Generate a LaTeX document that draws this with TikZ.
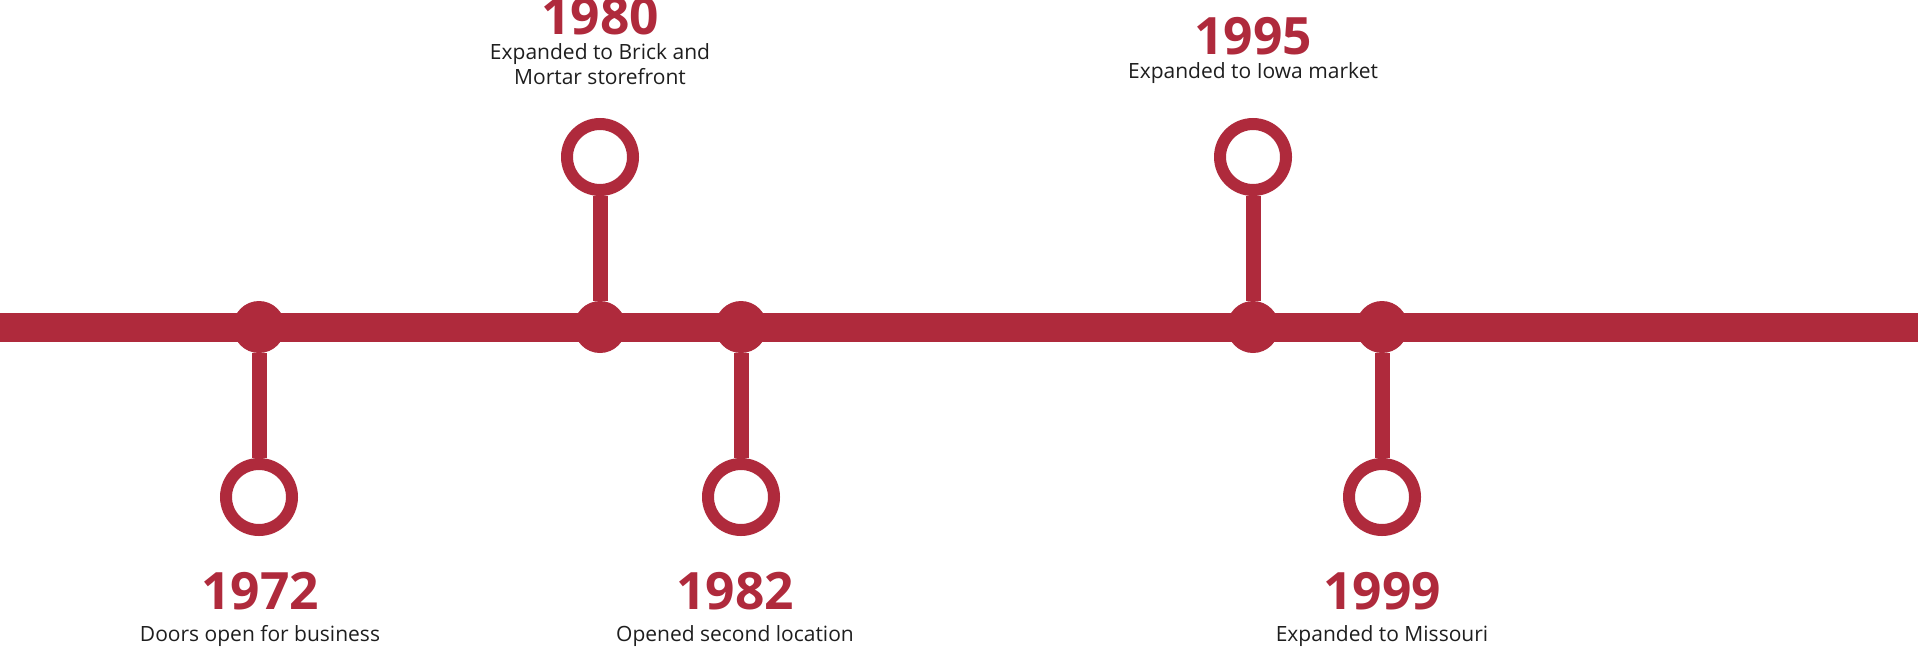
\documentclass[tikz,border=0pt]{standalone}
\usepackage{fontspec}
\setmainfont{Open Sans}
\definecolor{crimson}{RGB}{175,42,60}
\definecolor{ink}{RGB}{30,30,30}
\begin{document}
\begin{tikzpicture}[x=1pt,y=-1pt,
  bar/.style={crimson,line width=29pt},
  stem/.style={crimson,line width=15pt},
  dot/.style={circle,fill=crimson,minimum size=52pt,inner sep=0pt},
  ring/.style={circle,draw=crimson,fill=white,line width=12pt,minimum size=66pt,inner sep=0pt},
  year/.style={anchor=base,text=crimson,font=\fontsize{51.5}{58}\selectfont\bfseries},
  what/.style={anchor=base,text=ink,align=center,font=\fontsize{21}{25}\selectfont}]
\useasboundingbox (0,0) rectangle (1918,646);
% the time line
\coordinate (west) at (0,327);
\coordinate (east) at (1918,327);
\draw[bar] (west) -- (east);
% events below the line
\foreach \x/\tx/\yr/\lab in {259/260/1972/{Doors open for business},741/735/1982/{Opened second location},1382/1382/1999/{Expanded to Missouri}}{
  \node[dot] (d\yr) at (\x,327) {};
  \node[ring] (r\yr) at (\x,497) {};
  \draw[stem] (d\yr) -- (r\yr);
  \node[year] (y\yr) at (\tx,609) {\yr};
  \node[what] (t\yr) at (\tx,641) {\lab};}
% events above the line (text baseline = last line)
\foreach \x/\yr/\ya/\ta/\lab in {600/1980/34/84/{Expanded to Brick and\\Mortar storefront},1253/1995/54/78/{Expanded to Iowa market}}{
  \node[dot] (d\yr) at (\x,327) {};
  \node[ring] (r\yr) at (\x,157) {};
  \draw[stem] (d\yr) -- (r\yr);
  \node[year] (y\yr) at (\x,\ya) {\yr};
  \node[what] (t\yr) at (\x,\ta) {\lab};}
\end{tikzpicture}
\end{document}
